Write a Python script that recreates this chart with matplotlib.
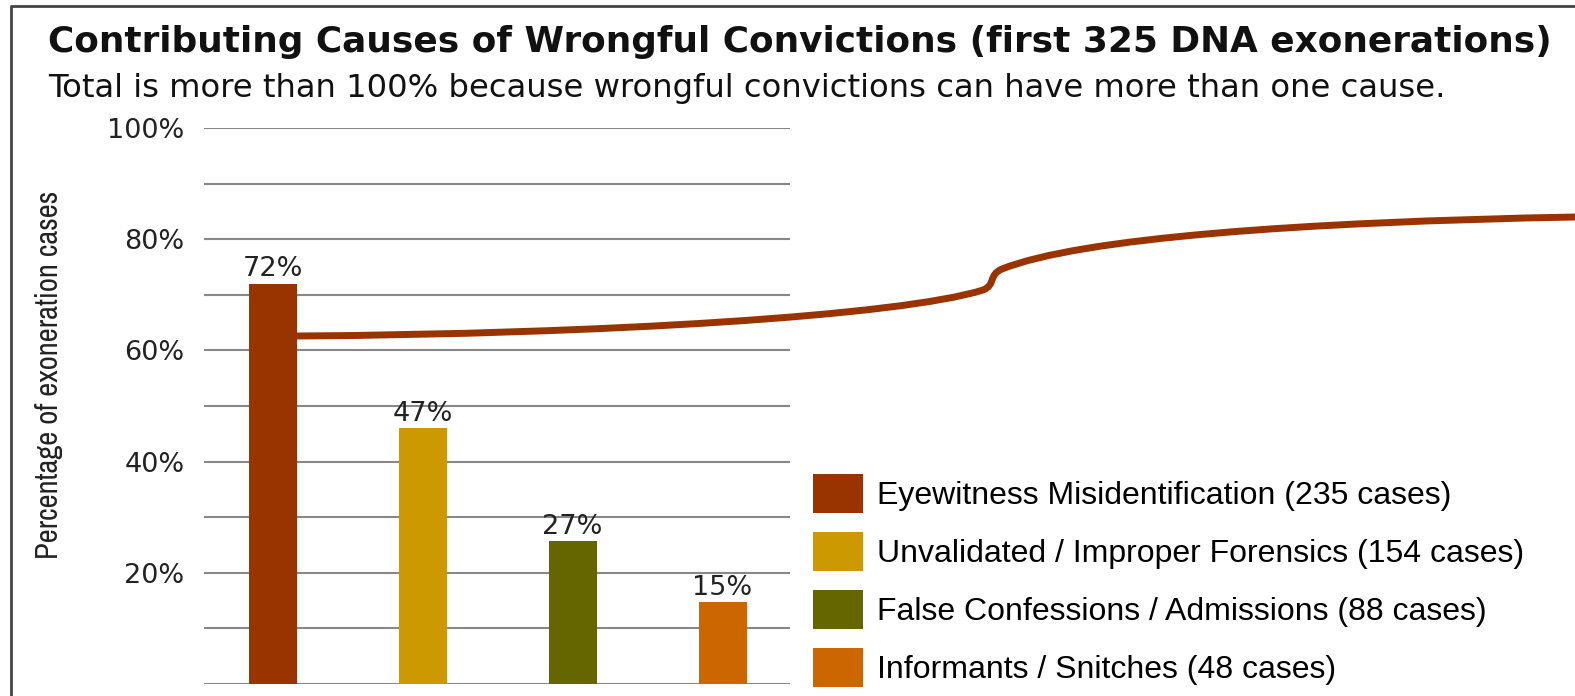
from matplotlib import pyplot as plt
from matplotlib.path import Path
from matplotlib.patches import PathPatch
import numpy as np

# Datos
causas = ['Eyewitness Misidentification (235 cases)',
          'Unvalidated / Improper Forensics (154 cases)',
          'False Confessions / Admissions (88 cases)',
          'Informants / Snitches (48 cases)']
alturas = [0.72, 0.46, 0.257, 0.147]
etiquetas = ['72%', '47%', '27%', '15%']
colores = ['#993300', '#CC9900', '#666600', '#CC6600']
yticks = [0.2, 0.4, 0.6, 0.8, 1.0]
yticklabels = ['20%', '40%', '60%', '80%', '100%']

W, H = 1575, 696
fig = plt.figure(figsize=(W / 100, H / 100), dpi=100)
ancha = ['DejaVu Sans']
arial = ['Liberation Sans', 'DejaVu Sans']
estrecha = ['Archivo Narrow', 'Liberation Sans', 'DejaVu Sans']

######################### EJES #########################
ax = fig.add_axes([204 / W, 1 - 684 / H, (790 - 204) / W, (684 - 128) / H])
x = np.arange(len(alturas))
barras = ax.bar(x, alturas, width=0.32, color=colores, label=causas, zorder=3)
ax.bar_label(barras, labels=etiquetas, padding=1, fontsize=19.5,
             family=ancha, color='#222222')
ax.set_xlim(-0.46, 3.45)
ax.set_ylim(0, 1)
ax.set_xticks([])
ax.set_yticks(yticks)
ax.set_yticklabels(yticklabels, fontsize=19.5, family=ancha, color='#222222')
ax.set_yticks(np.arange(0, 1.01, 0.1), minor=True)
ax.tick_params(axis='y', which='both', length=0, pad=14)
ax.grid(axis='y', which='both', color='#888888', linewidth=1.5, zorder=0)
for s in ax.spines.values():
    s.set_visible(False)

fig.text(49 / W, 1 - 375 / H, 'Percentage of exoneration cases', rotation=90,
         ha='center', va='center', fontsize=22, family=estrecha, color='#222222')

############# Titulos
fig.text(48 / W, 1 - 52 / H,
         'Contributing Causes of Wrongful Convictions (first 325 DNA exonerations)',
         fontsize=25.8, fontweight='bold', family=ancha, va='baseline', color='#111111')
fig.text(48 / W, 1 - 97 / H,
         'Total is more than 100% because wrongful convictions can have more than one cause.',
         fontsize=23.2, family=ancha, va='baseline', color='#111111')

############# Leyenda
fig.legend(handles=barras, labels=causas, loc='upper left',
           bbox_to_anchor=(813 / W, 1 - 474 / H), borderaxespad=0, borderpad=0,
           frameon=False, handlelength=1.57, handleheight=1.5, handletextpad=0.42,
           labelspacing=0.6, prop={'family': arial, 'size': 23})

############# Linea decorativa y marco
over = fig.add_axes([0, 0, 1, 1], facecolor='none')
over.set_xlim(0, W)
over.set_ylim(H, 0)
over.axis('off')
verts = [(297, 336),
         (600, 334), (900, 316), (983, 290),
         (996, 285), (988, 275), (1002, 269),
         (1080, 238), (1300, 222), (1575, 217)]
codes = [Path.MOVETO] + [Path.CURVE4] * 9
over.add_patch(PathPatch(Path(verts, codes), facecolor='none',
                         edgecolor='#993300', linewidth=5, capstyle='butt'))
over.plot([11, 11, W], [H, 6, 6], color='#444444', linewidth=2)

plt.savefig('out.png', dpi=100)
